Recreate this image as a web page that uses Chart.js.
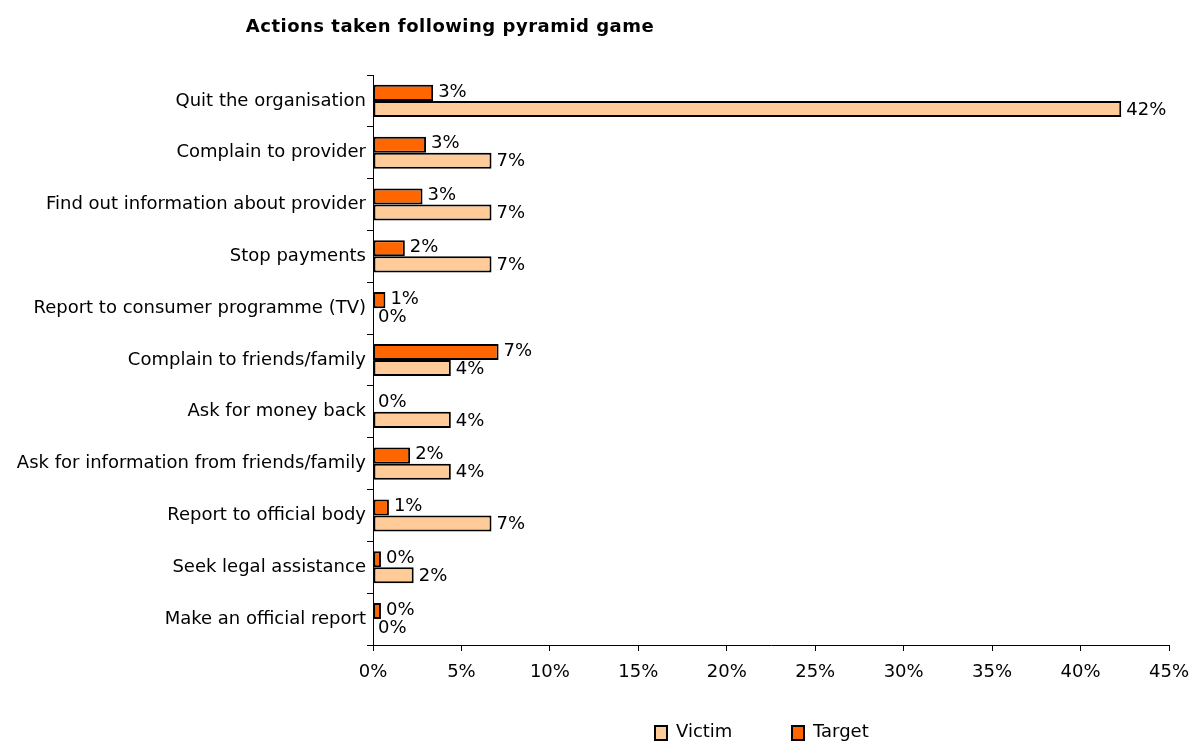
<!DOCTYPE html>
<html>
<head>
<meta charset="utf-8">
<script src="https://cdn.jsdelivr.net/npm/chart.js@4"></script>
<style>
  html, body { margin: 0; padding: 0; background: #fff; }
  #wrap { width: 1190px; height: 742px; }
</style>
</head>
<body>
<div id="wrap"><canvas id="actionsChart" width="1190" height="742"></canvas></div>
<script>
// Categories, top to bottom
const actions = [
    'Quit the organisation',
    'Complain to provider',
    'Find out information about provider',
    'Stop payments',
    'Report to consumer programme (TV)',
    'Complain to friends/family',
    'Ask for money back',
    'Ask for information from friends/family',
    'Report to official body',
    'Seek legal assistance',
    'Make an official report'
];

// Percent of respondents (labels show the rounded value)
const targetValues = [3.4, 3.0, 2.8, 1.8, 0.7, 7.1, 0, 2.1, 0.9, 0.45, 0.45];
const victimValues = [42.3, 6.7, 6.7, 6.7, 0, 4.4, 4.4, 4.4, 6.7, 2.3, 0];

const xTicks = [0, 5, 10, 15, 20, 25, 30, 35, 40, 45];

const FONT = 'DejaVu Sans';
const chartTitle = 'Actions taken following pyramid game';

// Value labels at the end of each bar
const barLabels = {
    id: 'barLabels',
    afterDatasetsDraw(chart) {
        const ctx = chart.ctx;
        ctx.save();
        ctx.font = '18px "' + FONT + '"';
        ctx.fillStyle = '#000';
        ctx.textBaseline = 'middle';
        ctx.textAlign = 'left';
        chart.data.datasets.forEach((ds, i) => {
            const meta = chart.getDatasetMeta(i);
            meta.data.forEach((bar, j) => {
                ctx.fillText(Math.round(ds.data[j]) + '%', bar.x + 5, bar.y + (i === 0 ? -1 : 1));
            });
        });
        ctx.restore();
    }
};

// Title sits over the left part of the plot
const leftTitle = {
    id: 'leftTitle',
    afterDraw(chart) {
        const ctx = chart.ctx;
        ctx.save();
        ctx.font = 'bold 18px "' + FONT + '"';
        ctx.letterSpacing = '0.5px';
        ctx.fillStyle = '#000';
        ctx.textBaseline = 'middle';
        ctx.textAlign = 'center';
        ctx.fillText(chartTitle, 450, 27);
        ctx.restore();
    }
};

// Bottom legend, Victim first
const bottomLegend = {
    id: 'bottomLegend',
    afterDraw(chart) {
        const ctx = chart.ctx;
        const items = [chart.data.datasets[1], chart.data.datasets[0]];
        const y = chart.height - 10;
        let x = 655;
        ctx.save();
        ctx.font = '18px "' + FONT + '"';
        ctx.textBaseline = 'middle';
        ctx.textAlign = 'left';
        items.forEach(ds => {
            ctx.fillStyle = ds.backgroundColor;
            ctx.fillRect(x, y - 6, 12, 14);
            ctx.strokeStyle = '#000';
            ctx.lineWidth = 2;
            ctx.strokeRect(x, y - 6, 12, 14);
            ctx.fillStyle = '#000';
            ctx.fillText(ds.label, x + 21, y);
            x += 137;
        });
        ctx.restore();
    }
};

new Chart(document.getElementById('actionsChart'), {
    type: 'bar',
    data: {
        labels: actions,
        datasets: [
            {
                label: 'Target',
                data: targetValues,
                backgroundColor: '#FF6600',
                borderColor: '#000',
                borderWidth: 2,
                borderSkipped: false
            },
            {
                label: 'Victim',
                data: victimValues,
                backgroundColor: '#FFCC99',
                borderColor: '#000',
                borderWidth: 2,
                borderSkipped: false
            }
        ]
    },
    options: {
        indexAxis: 'y',
        responsive: false,
        animation: false,
        datasets: { bar: { categoryPercentage: 0.62, barPercentage: 1 } },
        layout: { padding: { top: 75, right: 21, bottom: 0, left: 0 } },
        plugins: {
            legend: { display: false },
            title: { display: false },
            tooltip: { enabled: false }
        },
        scales: {
            x: {
                min: 0,
                max: 45,
                afterBuildTicks(scale) {
                    scale.ticks = xTicks.map(v => ({ value: v }));
                },
                afterFit(scale) {
                    scale.height = 97;
                    scale.paddingLeft = 0;
                    scale.paddingRight = 0;
                },
                ticks: {
                    color: '#000',
                    font: { family: FONT, size: 18 },
                    padding: 11,
                    maxRotation: 0,
                    callback: v => v + '%'
                },
                grid: { drawOnChartArea: false, drawTicks: true, tickLength: 6, color: '#000' },
                border: { color: '#000', width: 1 }
            },
            y: {
                afterFit(scale) { scale.width = 373; },
                ticks: {
                    color: '#000',
                    font: { family: FONT, size: 18 },
                    padding: 1
                },
                grid: { offset: true, drawOnChartArea: false, drawTicks: true, tickLength: 6, color: '#000' },
                border: { color: '#000', width: 1 }
            }
        }
    },
    plugins: [barLabels, leftTitle, bottomLegend]
});
</script>
</body>
</html>
